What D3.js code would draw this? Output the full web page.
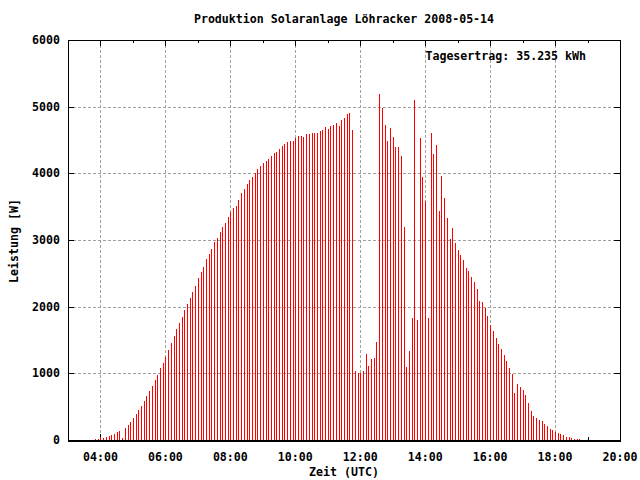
<!DOCTYPE html>
<html><head><meta charset="utf-8">
<script src="https://cdn.jsdelivr.net/npm/d3@7"></script>
<style>
html,body{margin:0;padding:0;background:#fff;}
text{font-family:"DejaVu Sans Mono","Liberation Mono",monospace;font-weight:bold;font-size:11.6px;fill:#000;}
</style></head><body>
<script>
// ---- data ----
const title = "Produktion Solaranlage Löhracker 2008-05-14";
const annotation = "Tagesertrag: 35.235 kWh";
const xLabel = "Zeit (UTC)";
const yLabel = "Leistung [W]";
const startTime = "03:50";     // first sample
const stepMinutes = 5;          // sampling interval
const power = [
  15,15,40,30,50,60,75,90,120,135,
  30,180,225,270,330,390,450,510,585,660,
  735,810,900,975,1080,1155,1245,1350,1455,1560,
  1665,1755,1845,1950,2040,2130,2220,2310,2430,2520,
  2595,2715,2790,2865,2970,3030,3120,3195,3255,3345,
  3420,3480,3510,3600,3705,3765,3840,3900,3945,4005,
  4065,4110,4155,4185,4215,4260,4305,4320,4365,4410,
  4440,4470,4485,4485,4530,4560,4560,4545,4590,4590,
  4605,4605,4605,4635,4650,4695,4665,4710,4725,4755,
  4710,4800,4830,4890,4905,4650,1035,1005,1005,1035,
  1290,1110,1215,1230,1470,5190,4980,4725,4485,4680,
  4545,4395,4395,4260,3195,1095,1335,1830,5100,1800,
  4530,3945,3585,1830,4605,4290,4425,3435,3960,3630,
  3330,3015,3180,2955,2850,2775,2700,2580,2535,2445,
  2370,2265,2085,2070,1980,1860,1725,1635,1530,1440,
  1365,1275,1185,1080,990,705,840,795,750,675,
  555,435,360,330,300,285,240,210,165,150,
  120,105,90,75,45,45,30,15,15,15
];
const xTickHours = [4,6,8,10,12,14,16,18,20];
const xTickLabels = ["04:00","06:00","08:00","10:00","12:00","14:00","16:00","18:00","20:00"];
const xMinorHours = [3,5,7,9,11,13,15,17,19];
const yTicks = [0,1000,2000,3000,4000,5000,6000];

// ---- layout ----
const W = 640, H = 480;
const L = 68, R = 620, T = 40, B = 440;
const svg = d3.select("body").append("svg").attr("width", W).attr("height", H);

const x = d3.scaleLinear().domain([3, 20]).range([L, R]);
const y = d3.scaleLinear().domain([0, 6000]).range([B, T]);

const [sh, sm] = startTime.split(":").map(Number);
const data = power.map((v, i) => ({ t: sh + (sm + i * stepMinutes) / 60, v }));
const px = v => Math.round(v) + 0.5;

// grid
const grid = svg.append("g").attr("stroke", "#a0a0a0").attr("stroke-width", 1)
  .attr("stroke-dasharray", "3,2").attr("shape-rendering", "crispEdges");
grid.selectAll("line.vx").data(xTickHours.filter(h => h < 20)).join("line")
  .attr("x1", d => px(x(d))).attr("x2", d => px(x(d))).attr("y1", T).attr("y2", B);
grid.selectAll("line.hy").data(yTicks.filter(v => v > 0 && v < 6000)).join("line")
  .attr("class", "hy")
  .attr("x1", L).attr("x2", R).attr("y1", d => px(y(d))).attr("y2", d => px(y(d)));

// ticks (inward, mirrored)
const tk = svg.append("g").attr("stroke", "#000").attr("stroke-width", 1).attr("shape-rendering", "crispEdges");
xTickHours.forEach(h => {
  tk.append("line").attr("x1", px(x(h))).attr("x2", px(x(h))).attr("y1", B).attr("y2", B - 6);
  tk.append("line").attr("x1", px(x(h))).attr("x2", px(x(h))).attr("y1", T).attr("y2", T + 6);
});
xMinorHours.forEach(h => {
  tk.append("line").attr("x1", px(x(h))).attr("x2", px(x(h))).attr("y1", B).attr("y2", B - 3);
  tk.append("line").attr("x1", px(x(h))).attr("x2", px(x(h))).attr("y1", T).attr("y2", T + 3);
});
yTicks.forEach(v => {
  tk.append("line").attr("x1", L).attr("x2", L + 6).attr("y1", px(y(v))).attr("y2", px(y(v)));
  tk.append("line").attr("x1", R - 6).attr("x2", R).attr("y1", px(y(v))).attr("y2", px(y(v)));
});

// impulses
svg.append("g").attr("stroke", "#ff0000").attr("stroke-width", 1).attr("shape-rendering", "crispEdges")
  .selectAll("line").data(data).join("line")
  .attr("x1", d => px(x(d.t))).attr("x2", d => px(x(d.t)))
  .attr("y1", y(0)).attr("y2", d => Math.round(y(d.v)));

// border
svg.append("rect").attr("x", L + 0.5).attr("y", T + 0.5).attr("width", R - L).attr("height", B - T)
  .attr("fill", "none").attr("stroke", "#000").attr("stroke-width", 1).attr("shape-rendering", "crispEdges");
svg.append("line").attr("x1", L).attr("x2", R + 1).attr("y1", B + 1.5).attr("y2", B + 1.5)
  .attr("stroke", "#000").attr("shape-rendering", "crispEdges");

// tick labels
svg.append("g").selectAll("text").data(xTickHours).join("text")
  .attr("x", d => x(d)).attr("y", 461).attr("text-anchor", "middle")
  .text((d, i) => xTickLabels[i]);
svg.append("g").selectAll("text").data(yTicks).join("text")
  .attr("x", 60).attr("y", d => y(d) + 4).attr("text-anchor", "end")
  .text(d => d);

// titles
svg.append("text").attr("x", (L + R) / 2).attr("y", 23).attr("text-anchor", "middle").text(title);
svg.append("text").attr("x", 586).attr("y", 60).attr("text-anchor", "end").text(annotation);
svg.append("text").attr("x", (L + R) / 2).attr("y", 476).attr("text-anchor", "middle").text(xLabel);
svg.append("text").attr("transform", "translate(18,241) rotate(-90)").attr("text-anchor", "middle").text(yLabel);
</script>
</body></html>
